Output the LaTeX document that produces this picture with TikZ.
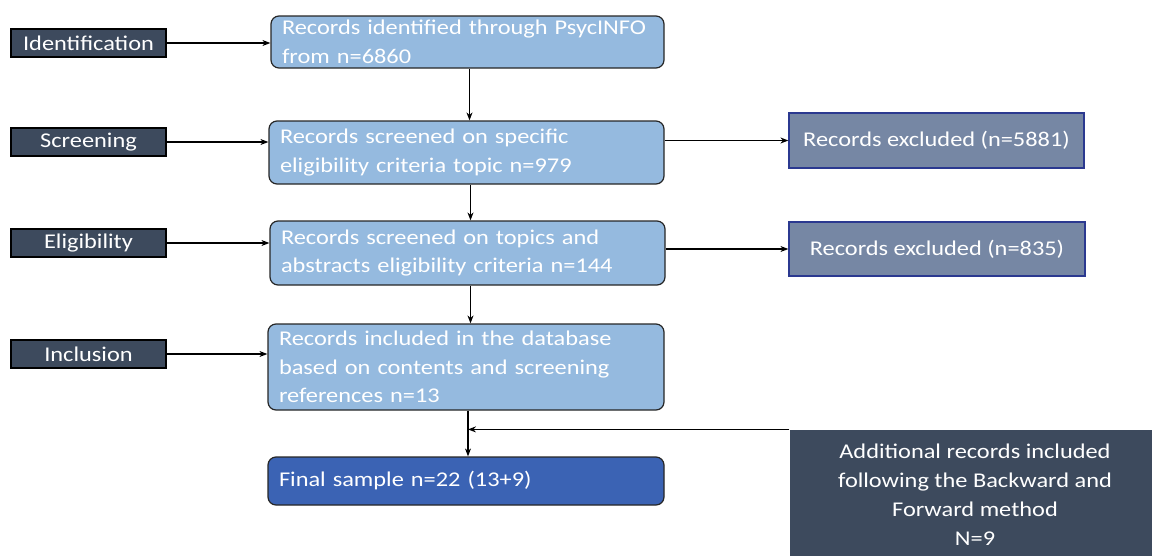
\documentclass[tikz,border=0pt]{standalone}
\usepackage{fontspec}
\setmainfont{Carlito}[FakeStretch=1.16]
\usetikzlibrary{arrows.meta}
\definecolor{stageslate}{RGB}{61,74,93}
\definecolor{recordblue}{RGB}{149,186,223}
\definecolor{finalblue}{RGB}{59,99,180}
\definecolor{excludegrey}{RGB}{118,135,164}
\definecolor{excludeline}{RGB}{43,57,144}

\begin{document}
\begin{tikzpicture}[x=1pt,y=-1pt,>={Stealth[length=8pt,width=6pt]},line width=1.2pt]

%
% Styles
%
\tikzstyle{stage} = [rectangle,draw=black,fill=stageslate,text=white,
  minimum width=155pt,minimum height=28pt,inner sep=0pt,font=\fontsize{21}{28}\selectfont]
\tikzstyle{record} = [rectangle,rounded corners=8pt,draw=black!85,fill=recordblue,text=white,
  align=left,inner xsep=11pt,inner ysep=0pt,font=\fontsize{21}{28.5}\selectfont]
\tikzstyle{excluded} = [rectangle,draw=excludeline,fill=excludegrey,text=white,
  inner sep=0pt,font=\fontsize{21}{28}\selectfont]

\useasboundingbox (0,0) rectangle (1152,555);

\node[stage] (ident)  at (88.5, 43)  {Identification};
\node[stage] (screen) at (88.5,142)  {Screening};
\node[stage] (elig)   at (88.5,243)  {Eligibility};
\node[stage] (incl)   at (88.5,354)  {Inclusion};

\node[record,minimum width=393pt,minimum height=52pt,text width=371pt] (found) at (467.5, 42)
  {Records identified through PsycINFO\\from n=6860};
\node[record,minimum width=395pt,minimum height=63pt,text width=373pt] (topic) at (466.5,152.5)
  {Records screened on specific\\eligibility criteria topic n=979};
\node[record,minimum width=395pt,minimum height=64pt,text width=373pt] (abstr) at (467.5,253)
  {Records screened on topics and\\abstracts eligibility criteria n=144};
\node[record,minimum width=396pt,minimum height=86pt,text width=374pt] (kept) at (466,367)
  {Records included in the database\\based on contents and screening\\references n=13};
\node[record,fill=finalblue,minimum width=396pt,minimum height=48pt,text width=374pt] (final) at (466,481)
  {Final sample n=22 (13+9)};

\node[excluded,minimum width=295pt,minimum height=55pt] (out1) at (936.5,140.5) {Records excluded (n=5881)};
\node[excluded,minimum width=296pt,minimum height=54pt] (out2) at (937,249)     {Records excluded (n=835)};

\node[rectangle,fill=stageslate,text=white,align=center,minimum width=370pt,minimum height=130pt,
  inner sep=0pt,font=\fontsize{21}{29}\selectfont] (extra) at (975,495)
  {Additional records included\\following the Backward and\\Forward method\\N=9};

\draw[->] (ident.east)  -- (ident.east -| found.west);
\draw[->] (screen.east) -- (screen.east -| topic.west);
\draw[->] (elig.east)   -- (elig.east -| abstr.west);
\draw[->] (incl.east)   -- (incl.east -| kept.west);

\draw[->] ([xshift=2pt]found.south) -- ([xshift=2pt]found.south |- topic.north);
\draw[->] ([xshift=4pt]topic.south) -- ([xshift=4pt]topic.south |- abstr.north);
\draw[->] ([xshift=3pt]abstr.south) -- ([xshift=3pt]abstr.south |- kept.north);
\draw[->] ([xshift=2pt]kept.south)  -- ([xshift=2pt]kept.south |- final.north);

\draw[->] (out1 -| topic.east) -- (out1.west);
\draw[->] (out2 -| abstr.east) -- (out2.west);

\coordinate (join) at ([xshift=2pt]kept.south |- extra.north);
\draw[->] (extra.north west) -- (join);

\end{tikzpicture}
\end{document}
